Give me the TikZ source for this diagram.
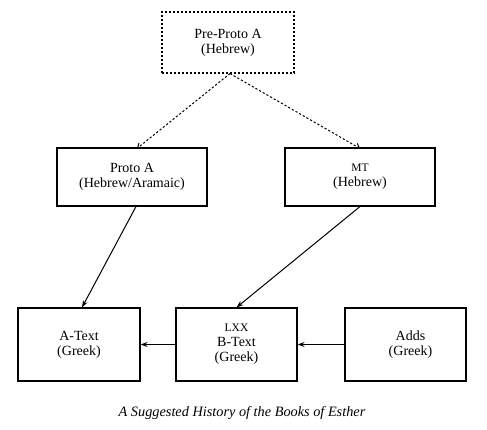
\documentclass[tikz,border=0pt]{standalone}
\usepackage{fontspec}
\setmainfont{Liberation Serif}
\usetikzlibrary{arrows.meta,calc}
\begin{document}
\begin{tikzpicture}[x=1pt,y=-1pt,
  box/.style={draw,line width=1.1pt,align=center,inner sep=0pt,font=\fontsize{14}{15}\selectfont},
  conn/.style={line width=1pt,-{Stealth[length=7pt,width=5pt]}},
  dconn/.style={line width=1pt,dash pattern=on 2.2pt off 2pt,-{Straight Barb[length=4pt,width=6pt]}}]
\useasboundingbox (0,0) rectangle (487,430);
\node[box,dash pattern=on 2.2pt off 1.8pt,minimum width=132pt,minimum height=61pt] (pre) at (228,42.5) {Pre-Proto A\\(Hebrew)};
\node[box,minimum width=150pt,minimum height=58pt] (protoA) at (132,177) {Proto A\\(Hebrew/Aramaic)};
\node[box,minimum width=150pt,minimum height=58pt] (mt) at (360,177) {{\fontsize{11.5}{15}\selectfont MT}\\(Hebrew)};
\node[box,minimum width=122pt,minimum height=73pt] (atext) at (79,344.5) {A-Text\\(Greek)};
\node[box,minimum width=121pt,minimum height=73pt] (lxx) at (236.5,344.5) {{\fontsize{11.5}{14}\selectfont LXX}\\B-Text\\(Greek)};
\node[box,minimum width=121pt,minimum height=73pt] (adds) at (405.5,344.5) {\hspace*{10pt}Adds\\\hspace*{10pt}(Greek)};
\node[font=\fontsize{14.3}{16}\selectfont\itshape] (cap) at (242,413) {A Suggested History of the Books of Esther};
\draw[dconn] ([xshift=2pt]pre.south) -- ([xshift=5pt,yshift=-1pt]protoA.north);
\draw[dconn] ([xshift=2pt]pre.south) -- ([xshift=0pt,yshift=-1pt]mt.north);
\draw[conn] ([xshift=4pt]protoA.south) -- ([xshift=3pt]atext.north);
\draw[conn] (mt.south) -- (lxx.north);
\draw[conn] (lxx.west) -- (atext.east);
\draw[conn] (adds.west) -- (lxx.east);
\end{tikzpicture}
\end{document}
